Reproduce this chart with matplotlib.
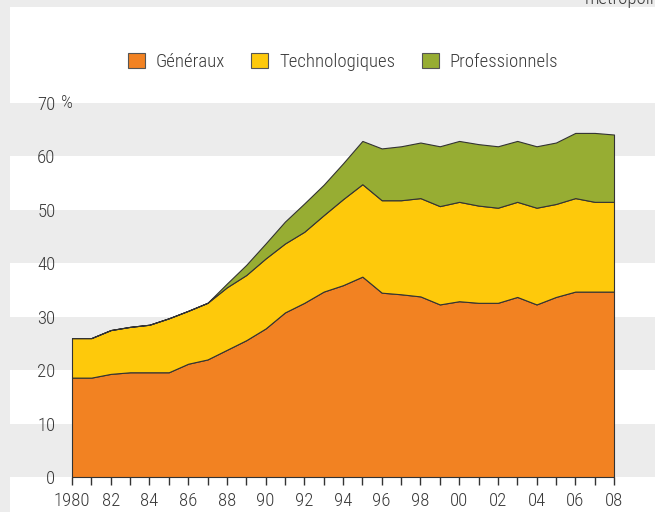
"""
stacked area chart: share of a generation obtaining the baccalauréat, by track
output: out.png
"""

import matplotlib.pyplot as plt
from matplotlib import font_manager
from matplotlib.patches import Rectangle, Patch
from matplotlib.transforms import blended_transform_factory

# -- DATA --
years = list(range(1980, 2009))
generaux = [18.6, 18.6, 19.3, 19.6, 19.6, 19.6, 21.2, 22.0, 23.8, 25.6,
            27.8, 30.8, 32.6, 34.7, 35.9, 37.5, 34.5, 34.2, 33.8, 32.3,
            32.9, 32.6, 32.6, 33.7, 32.3, 33.7, 34.7, 34.7, 34.7]
technologiques = [7.4, 7.4, 8.2, 8.5, 8.9, 10.1, 9.9, 10.6, 11.7, 12.2,
                  13.1, 12.9, 13.3, 14.3, 16.1, 17.3, 17.3, 17.6, 18.4, 18.4,
                  18.6, 18.2, 17.8, 17.8, 18.1, 17.4, 17.5, 16.8, 16.8]
professionnels = [0, 0, 0, 0, 0, 0, 0, 0, 0.7, 1.9,
                  2.8, 4.1, 5.3, 5.7, 6.7, 8.1, 9.7, 10.1, 10.4, 11.2,
                  11.4, 11.5, 11.5, 11.4, 11.5, 11.5, 12.2, 12.9, 12.6]
series_labels = ["Généraux", "Technologiques", "Professionnels"]
y_ticks = [0, 10, 20, 30, 40, 50, 60, 70]
x_labels = ["1980" if y == 1980 else f"{y % 100:02d}" for y in years[::2]]

# -- STYLE --
# prefer a narrow face if one is around
names = {f.name for f in font_manager.fontManager.ttflist}
narrow = [n for n in ["Liberation Sans Narrow", "Roboto Condensed",
                      "Open Sans Condensed", "DejaVu Sans Condensed"] if n in names]
plt.rcParams["font.family"] = narrow + ["DejaVu Sans"]
plt.rcParams["font.stretch"] = "condensed"
plt.rcParams["font.weight"] = "light"
FS = 13.5
TEXT = "#3a3a3a"
EDGE = "#333333"
GREY = "#ececec"
colors = ["#f28222", "#fec90b", "#97ad33"]
W, H = 655, 512

fig = plt.figure(figsize=(W / 100, H / 100), dpi=100, facecolor="white")

# outer frame strips
fig.patches.append(Rectangle((0, 0), 10 / W, 1, transform=fig.transFigure,
                             facecolor=GREY, edgecolor="none", zorder=0))
fig.patches.append(Rectangle((0, 1 - 7 / H), 1, 7 / H, transform=fig.transFigure,
                             facecolor=GREY, edgecolor="none", zorder=0))

ax = fig.add_axes([72 / W, 1 - 477 / H, (614 - 72) / W, (477 - 103) / H])
ax.set_facecolor("none")
ax.set_xlim(1980, 2008)
ax.set_ylim(0, 70)

# alternating horizontal bands across the panel
trans = blended_transform_factory(fig.transFigure, ax.transData)
for y0 in range(0, 70, 20):
    ax.add_patch(Rectangle((10 / W, y0), 1 - 10 / W, 10, transform=trans,
                           facecolor=GREY, edgecolor="none", clip_on=False, zorder=0))

polys = ax.stackplot(years, generaux, technologiques, professionnels,
                     colors=colors, edgecolor=EDGE, linewidth=0.8, zorder=2)
for p in polys:
    p.set_clip_on(False)

for side in ax.spines.values():
    side.set_visible(False)

ax.set_yticks(y_ticks)
ax.set_yticklabels([str(t) for t in y_ticks])
ax.tick_params(axis="y", length=0, pad=12, labelsize=FS, labelcolor=TEXT)
ax.text(61 / W, 70, "%", transform=trans, ha="left", va="center",
        fontsize=FS, color=TEXT)

ax.set_xticks(years, minor=True)
ax.set_xticks(years[::2])
ax.set_xticklabels(x_labels)
ax.tick_params(axis="x", which="both", direction="out", length=6, width=1,
               color=EDGE, pad=5, labelsize=FS, labelcolor=TEXT)

handles = [Patch(facecolor=c, edgecolor="#555555", linewidth=0.8, label=l)
           for c, l in zip(colors, series_labels)]
fig.legend(handles=handles, loc="center", bbox_to_anchor=(343 / W, 1 - 62 / H),
           ncol=3, frameon=False, fontsize=FS, labelcolor=TEXT,
           handlelength=0.9, handleheight=0.9, handletextpad=0.6,
           columnspacing=1.4)

fig.text(585 / W, 1 - 4 / H, "métropolitaine", ha="left", va="baseline",
         fontsize=FS, color=TEXT)

fig.savefig("out.png", dpi=100, facecolor=fig.get_facecolor())
